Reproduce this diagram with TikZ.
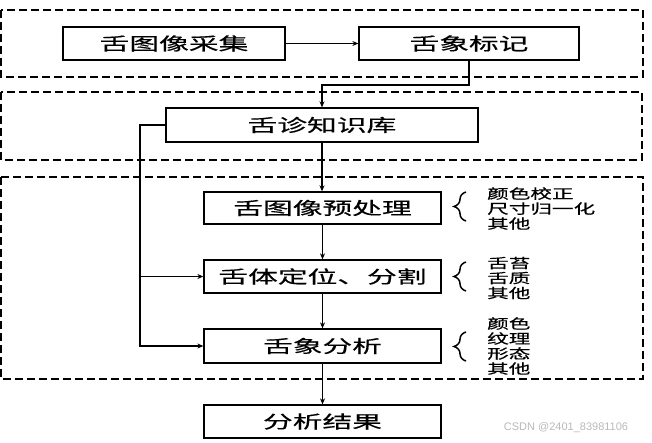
\documentclass[tikz,border=0pt]{standalone}
\usepackage{fontspec}
\newfontfamily\cjk[FakeStretch=1.7,FakeBold=0.6]{Noto Sans CJK SC}
\newfontfamily\cjkside[FakeStretch=1.6,FakeBold=0.6]{Noto Sans CJK SC}
\newfontfamily\wmfont{Liberation Sans}
\usetikzlibrary{arrows.meta,decorations.pathreplacing}
\begin{document}
\begin{tikzpicture}[x=1pt,y=-1pt,
  box/.style={draw,line width=1.3pt,inner sep=0pt,font=\cjk\fontsize{17.5}{17.5}\selectfont},
  arr/.style={line width=1.7pt,-{Stealth[length=6pt,width=5pt]}},
  dashbox/.style={line width=1.4pt,dash pattern=on 8pt off 4pt},
  side/.style={anchor=west,align=left,inner sep=0pt,font=\cjkside\fontsize{13.5}{15}\selectfont},
  bracestyle/.style={line width=1.5pt,decorate,decoration={brace,amplitude=12pt}}]
\useasboundingbox (0,0) rectangle (652,443);
% dashed groups
\draw[dashbox] (1,10) rectangle (643,77);
\draw[dashbox] (1,92) rectangle (642,160);
\draw[dashbox] (1,177) rectangle (643,379);
% nodes
\node[box,minimum width=222pt,minimum height=33pt] (acq) at (174,43.5) {舌图像采集};
\node[box,minimum width=220pt,minimum height=33pt] (mark) at (469,43.5) {舌象标记};
\node[box,minimum width=312pt,minimum height=34pt] (kb) at (322,125) {舌诊知识库};
\node[box,minimum width=237pt,minimum height=32pt] (pre) at (322.5,208) {舌图像预处理};
\node[box,minimum width=237pt,minimum height=33pt] (seg) at (322.5,276.5) {舌体定位、分割};
\node[box,minimum width=237pt,minimum height=34pt] (ana) at (322.5,346) {舌象分析};
\node[box,minimum width=237pt,minimum height=33pt] (res) at (322.5,421.5) {分析结果};
% side texts
\node[side] (t1) at (487,208.5) {颜色校正\\尺寸归一化\\其他};
\node[side] (t2) at (487,278) {舌苔\\舌质\\其他};
\node[side] (t3) at (487,346) {颜色\\纹理\\形态\\其他};
% braces
\draw[bracestyle] (466,221) -- (466,192);
\draw[bracestyle] (466,291) -- (466,262);
\draw[bracestyle] (466,361) -- (466,332);
% connectors
\coordinate (j) at (0,85);
\coordinate (L) at (140,0);
\draw[arr] (acq.east) -- (mark.west);
\draw[arr] (mark.south) -- (mark.south |- j) -| (kb.north);
\draw[arr] (kb.south) -- (kb.south |- pre.north);
\draw[arr] (pre.south) -- (seg.north);
\draw[arr] (seg.south) -- (ana.north);
\draw[arr] (ana.south) -- (res.north);
\draw[arr] (kb.west) -- (kb.west -| L) -- (L |- ana.west) -- (ana.west);
\draw[arr] (L |- seg.west) -- (seg.west);
% watermark
\node[text=gray!55,font=\wmfont\fontsize{11}{11}\selectfont,inner sep=0pt] (wm) at (566,428) {CSDN @2401\_83981106};
\end{tikzpicture}
\end{document}
